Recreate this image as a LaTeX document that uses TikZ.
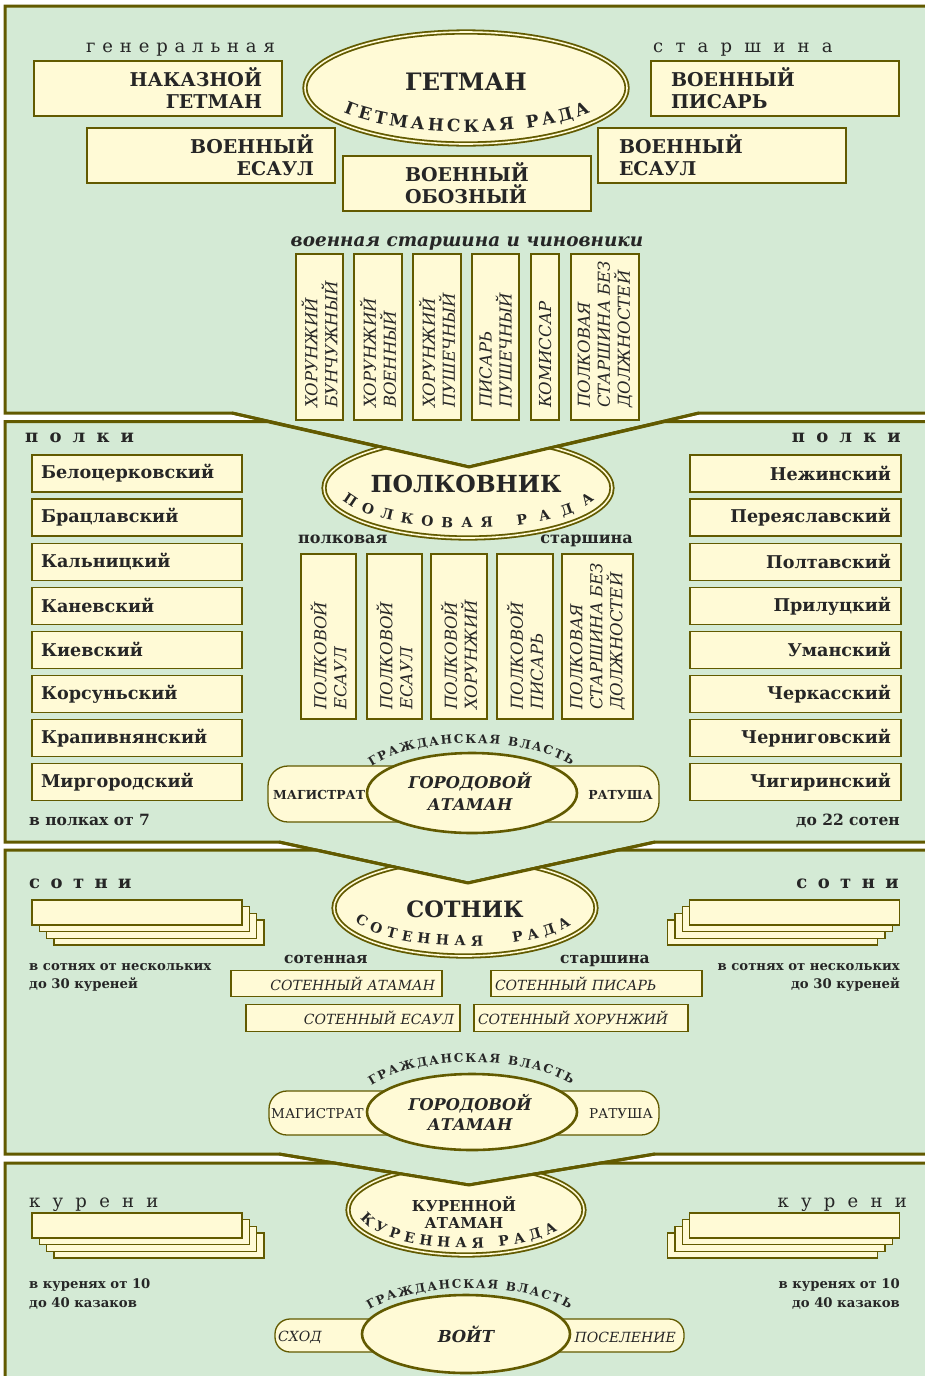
\documentclass[tikz,border=0pt]{standalone}
\usepackage{fontspec}
\setmainfont{DejaVu Serif}
\usetikzlibrary{shapes.geometric,decorations.text}
\definecolor{pgreen}{RGB}{212,234,213}
\definecolor{cream}{RGB}{255,250,214}
\definecolor{olive}{RGB}{98,90,0}
\definecolor{ink}{RGB}{38,38,38}
\newcommand{\fsz}[2]{\fontsize{#1pt}{#2pt}\selectfont}
\newcommand{\arcGet}{\bfseries\fsz{17}{17}}
\newcommand{\arcRada}{\bfseries\fsz{14}{14}}
\newcommand{\arcVl}{\bfseries\fsz{12}{12}}
\newcommand{\lsp}[1]{\addfontfeatures{LetterSpace=#1}}
\tikzset{
  panel/.style={fill=pgreen, draw=olive, line width=3pt},
  vedge/.style={draw=olive, line width=3pt},
  box/.style={draw=olive, fill=cream, line width=1.3pt, inner sep=0pt, text=ink},
  lab/.style={inner sep=0pt, text=ink},
  dell/.style={draw=olive, double=cream, double distance=1.6pt, line width=1.8pt, fill=cream},
  sell/.style={ellipse, draw=olive, line width=2.6pt, fill=cream, inner sep=0pt},
  bar/.style={draw=olive, fill=cream, line width=1.3pt, inner sep=0pt},
  bigt/.style={lab, font=\bfseries\fsz{23.5}{23.5}},
  bt/.style={font=\bfseries\fsz{19}{22}},
  vt/.style={lab, rotate=90, anchor=west, align=left, font=\itshape\fsz{16.5}{20}},
  sbox/.style={box, minimum width=210pt, minimum height=25pt},
  regL/.style={box, minimum width=210pt, minimum height=37pt, text width=192pt, align=left, font=\bfseries\fsz{17.6}{22}},
  regR/.style={box, minimum width=211pt, minimum height=37pt, text width=191pt, align=right, font=\bfseries\fsz{17.6}{22}},
  ibox/.style={box, minimum height=26.5pt, font=\itshape\fsz{14}{16}},
  note/.style={lab, font=\bfseries\fsz{13.2}{16}},
  rada/.style={decorate, decoration={text along path, text color=ink, text align=fit to path, text={#1}}},
}
\begin{document}
\begin{tikzpicture}[x=1pt,y=1pt]
\useasboundingbox (0,0) rectangle (924,-1376);
\fill[white] (0,0) rectangle (924,-1376);
% ---------- panels
\path[panel] (5,-6) -- (940,-6) -- (940,-413) -- (699,-413) -- (469,-467) -- (232,-413) -- (5,-413) -- cycle;
\path[panel] (5,-421.5) -- (267,-421.5) -- (469,-467) -- (665,-421.5) -- (940,-421.5) -- (940,-842) -- (655,-842) -- (468,-883) -- (279,-842) -- (5,-842) -- cycle;
\path[panel] (5,-850) -- (316,-850) -- (468,-883) -- (618,-850) -- (940,-850) -- (940,-1154) -- (655,-1154) -- (469,-1185) -- (279,-1154) -- (5,-1154) -- cycle;
\path[panel] (5,-1163) -- (334,-1163) -- (469,-1185) -- (601,-1163) -- (940,-1163) -- (940,-1395) -- (5,-1395) -- cycle;
% ---------- clipped ellipses
\begin{scope}
 \clip (5,-421.5) -- (267,-421.5) -- (469,-467) -- (665,-421.5) -- (940,-421.5) -- (940,-842) -- (5,-842) -- cycle;
 \path[dell] (468,-488) ellipse[x radius=144, y radius=50];
\end{scope}
\draw[vedge] (232,-413) -- (469,-467) -- (699,-413);
\begin{scope}
 \clip (5,-850) -- (316,-850) -- (468,-883) -- (618,-850) -- (940,-850) -- (940,-1154) -- (5,-1154) -- cycle;
 \path[dell] (465,-908) ellipse[x radius=131, y radius=48];
\end{scope}
\draw[vedge] (279,-842) -- (468,-883) -- (655,-842);
\begin{scope}
 \clip (5,-1163) -- (334,-1163) -- (469,-1185) -- (601,-1163) -- (940,-1163) -- (940,-1395) -- (5,-1395) -- cycle;
 \path[dell] (466,-1210) ellipse[x radius=118, y radius=45];
\end{scope}
\draw[vedge] (279,-1154) -- (469,-1185) -- (655,-1154);

% ================= PANEL 1
\node[lab, anchor=base west, font=\fsz{18}{18}\lsp{38}] (gen) at (86,-52) {генеральная};
\node[lab, anchor=base west, font=\fsz{18}{18}\lsp{68}] (star1) at (653,-52) {старшина};
\node[box, bt, minimum width=248pt, minimum height=55pt, text width=208pt, align=right] (nakg) at (158,-88.5) {НАКАЗНОЙ\\ГЕТМАН};
\node[box, bt, minimum width=248pt, minimum height=55pt, text width=206pt, align=right] (ves1) at (211,-155.5) {ВОЕННЫЙ\\ЕСАУЛ};
\node[box, bt, minimum width=248pt, minimum height=55pt, align=left] (vob) at (467,-183.5) {ВОЕННЫЙ\\ОБОЗНЫЙ};
\node[box, bt, minimum width=248pt, minimum height=55pt, text width=208pt, align=left] (vpis) at (775,-88.5) {ВОЕННЫЙ\\ПИСАРЬ};
\node[box, bt, minimum width=248pt, minimum height=55pt, text width=206pt, align=left] (ves2) at (722,-155.5) {ВОЕННЫЙ\\ЕСАУЛ};
\node[ellipse, dell, minimum width=322pt, minimum height=112pt, inner sep=0pt] (getman) at (466,-88) {};
\node[bigt, font=\bfseries\fsz{24}{24}] (getmant) at (466,-82) {ГЕТМАН};
\path[rada={|\arcGet|ГЕТМАНСКАЯ РАДА}] ([shift={(214:148 and 44)}]466,-88) arc[start angle=214, end angle=327, x radius=148, y radius=44];
\node[lab, anchor=base, font=\bfseries\itshape\fsz{18.4}{19}] (vsch) at (467,-246) {военная старшина и чиновники};
% vertical boxes
\node[box, minimum width=47pt, minimum height=166pt] (h1) at (319.5,-337) {};
\node[vt] (h1t) at (319.5,-408) {ХОРУНЖИЙ\\БУНЧУЖНЫЙ};
\node[box, minimum width=48pt, minimum height=166pt] (h2) at (378,-337) {};
\node[vt] (h2t) at (378,-408) {ХОРУНЖИЙ\\ВОЕННЫЙ};
\node[box, minimum width=48pt, minimum height=166pt] (h3) at (437,-337) {};
\node[vt] (h3t) at (437,-408) {ХОРУНЖИЙ\\ПУШЕЧНЫЙ};
\node[box, minimum width=47pt, minimum height=166pt] (h4) at (495.5,-337) {};
\node[vt] (h4t) at (495.5,-408) {ПИСАРЬ\\ПУШЕЧНЫЙ};
\node[box, minimum width=28pt, minimum height=166pt] (h5) at (545,-337) {};
\node[vt] (h5t) at (545,-408) {КОМИССАР};
\node[box, minimum width=68pt, minimum height=166pt] (h6) at (605,-337) {};
\node[vt] (h6t) at (605,-408) {ПОЛКОВАЯ\\СТАРШИНА БЕЗ\\ДОЛЖНОСТЕЙ};

% ================= PANEL 2
\node[lab, anchor=base west, font=\bfseries\fsz{18}{18}\lsp{62}] (polkiL) at (25,-442) {полки};
\node[lab, anchor=base east, font=\bfseries\fsz{18}{18}\lsp{62}] (polkiR) at (901,-442) {полки};
\foreach \n [count=\i from 0] in {Белоцерковский,Брацлавский,Кальницкий,Каневский,Киевский,Корсуньский,Крапивнянский,Миргородский}
  \node[regL] (L\i) at (137,{-473.5-44.1*\i}) {\n};
\foreach \n [count=\i from 0] in {Нежинский,Переяславский,Полтавский,Прилуцкий,Уманский,Черкасский,Черниговский,Чигиринский}
  \node[regR] (R\i) at (795.5,{-473.5-44.1*\i}) {\n};
\node[bigt] (polkt) at (466,-484) {ПОЛКОВНИК};
\path[rada={|\arcRada|ПОЛКОВАЯ}] ([shift={(198:132 and 40)}]468,-488) arc[start angle=198, end angle=281, x radius=132, y radius=40];
\path[rada={|\arcRada|РАДА}] ([shift={(292:132 and 40)}]468,-488) arc[start angle=292, end angle=343, x radius=132, y radius=40];
\node[lab, anchor=base west, font=\bfseries\fsz{16}{16}] (pst1) at (298,-543) {полковая};
\node[lab, anchor=base east, font=\bfseries\fsz{16}{16}] (pst2) at (633,-543) {старшина};
\node[box, minimum width=55pt, minimum height=165pt] (p1) at (328.5,-636.5) {};
\node[vt] (p1t) at (328.5,-710) {ПОЛКОВОЙ\\ЕСАУЛ};
\node[box, minimum width=55pt, minimum height=165pt] (p2) at (394.5,-636.5) {};
\node[vt] (p2t) at (394.5,-710) {ПОЛКОВОЙ\\ЕСАУЛ};
\node[box, minimum width=56pt, minimum height=165pt] (p3) at (459,-636.5) {};
\node[vt] (p3t) at (459,-710) {ПОЛКОВОЙ\\ХОРУНЖИЙ};
\node[box, minimum width=56pt, minimum height=165pt] (p4) at (525,-636.5) {};
\node[vt] (p4t) at (525,-710) {ПОЛКОВОЙ\\ПИСАРЬ};
\node[box, minimum width=71pt, minimum height=165pt] (p5) at (597.5,-636.5) {};
\node[vt] (p5t) at (597.5,-710) {ПОЛКОВАЯ\\СТАРШИНА БЕЗ\\ДОЛЖНОСТЕЙ};
\path[rada={|\arcVl|ГРАЖДАНСКАЯ ВЛАСТЬ}] ([shift={(147:120 and 51)}]472,-794) arc[start angle=147, end angle=34, x radius=120, y radius=51];
\node[bar, rounded corners=20pt, minimum width=391pt, minimum height=56pt] (mag2) at (463.5,-794) {};
\node[sell, minimum width=210pt, minimum height=80pt] (gor2) at (472,-793) {};
\node[lab, align=center, font=\bfseries\itshape\fsz{16.2}{22}] (gor2t) at (470,-791) {ГОРОДОВОЙ\\АТАМАН};
\node[lab, anchor=west, font=\bfseries\fsz{12.4}{13}] (mag2l) at (273,-795) {МАГИСТРАТ};
\node[lab, anchor=east, font=\bfseries\fsz{12.4}{13}] (mag2r) at (653,-795) {РАТУША};
\node[note, anchor=base west, font=\bfseries\fsz{15.5}{16}] (n7) at (29,-825) {в полках от 7};
\node[note, anchor=base east, font=\bfseries\fsz{15.5}{16}] (n22) at (900,-825) {до 22 сотен};

% ================= PANEL 3
\node[lab, anchor=base west, font=\bfseries\fsz{18}{18}\lsp{58}] (sotL) at (29,-888) {сотни};
\node[lab, anchor=base east, font=\bfseries\fsz{18}{18}\lsp{58}] (sotR) at (899,-888) {сотни};
\foreach \o in {3,2,1,0} {
  \node[sbox] (sl\o) at ({137+7.3*\o},{-912.5-6.7*\o}) {};
  \node[sbox] (sr\o) at ({794.5-7.3*\o},{-912.5-6.7*\o}) {};
}
\node[note, anchor=base west] (s1a) at (29,-970) {в сотнях от нескольких};
\node[note, anchor=base west] (s1b) at (29,-988) {до 30 куреней};
\node[note, anchor=base east] (s2a) at (900,-970) {в сотнях от нескольких};
\node[note, anchor=base east] (s2b) at (900,-988) {до 30 куреней};
\node[bigt, font=\bfseries\fsz{22.5}{22.5}] (sott) at (465,-909) {СОТНИК};
\path[rada={|\arcRada|СОТЕННАЯ}] ([shift={(201:118 and 38)}]465,-908) arc[start angle=201, end angle=279, x radius=118, y radius=38];
\path[rada={|\arcRada|РАДА}] ([shift={(294:118 and 38)}]465,-908) arc[start angle=294, end angle=334, x radius=118, y radius=38];
\node[lab, anchor=base west, font=\bfseries\fsz{15.5}{16}] (sst1) at (284,-963) {сотенная};
\node[lab, anchor=base west, font=\bfseries\fsz{15.5}{16}] (sst2) at (560,-963) {старшина};
\node[ibox, minimum width=211pt, text width=197pt, align=right] (sa) at (336.5,-983.5) {СОТЕННЫЙ АТАМАН};
\node[ibox, minimum width=214pt, text width=202pt, align=right] (se) at (353,-1018) {СОТЕННЫЙ ЕСАУЛ};
\node[ibox, minimum width=211pt, text width=203pt, align=left] (sp) at (596.5,-983.5) {СОТЕННЫЙ ПИСАРЬ};
\node[ibox, minimum width=214pt, text width=206pt, align=left] (sh) at (581,-1018) {СОТЕННЫЙ ХОРУНЖИЙ};
\path[rada={|\arcVl|ГРАЖДАНСКАЯ ВЛАСТЬ}] ([shift={(147:120 and 51)}]472,-1113) arc[start angle=147, end angle=34, x radius=120, y radius=51];
\node[bar, rounded corners=18pt, minimum width=390pt, minimum height=44pt] (mag3) at (464,-1113) {};
\node[sell, minimum width=210pt, minimum height=76pt] (gor3) at (472,-1112) {};
\node[lab, align=center, font=\bfseries\itshape\fsz{16.2}{20}] (gor3t) at (470,-1112) {ГОРОДОВОЙ\\АТАМАН};
\node[lab, anchor=west, font=\fsz{13.5}{13.5}] (mag3l) at (271,-1114) {МАГИСТРАТ};
\node[lab, anchor=east, font=\fsz{13.5}{13.5}] (mag3r) at (653,-1114) {РАТУША};

% ================= PANEL 4
\node[lab, anchor=base west, font=\fsz{18}{18}\lsp{68}] (kurL) at (29,-1207) {курени};
\node[lab, anchor=base east, font=\fsz{18}{18}\lsp{68}] (kurR) at (907,-1207) {курени};
\foreach \o in {3,2,1,0} {
  \node[sbox] (kl\o) at ({137+7.3*\o},{-1225.5-6.7*\o}) {};
  \node[sbox] (kr\o) at ({794.5-7.3*\o},{-1225.5-6.7*\o}) {};
}
\node[note, anchor=base west] (k1a) at (29,-1288) {в куренях от 10};
\node[note, anchor=base west] (k1b) at (29,-1307) {до 40 казаков};
\node[note, anchor=base east] (k2a) at (900,-1288) {в куренях от 10};
\node[note, anchor=base east] (k2b) at (900,-1307) {до 40 казаков};
\node[lab, align=center, font=\bfseries\fsz{15}{17}] (kurt) at (464,-1212) {КУРЕННОЙ\\АТАМАН};
\path[rada={|\arcRada|КУРЕННАЯ РАДА}] ([shift={(192:108 and 38)}]466,-1210) arc[start angle=192, end angle=328, x radius=108, y radius=38];
\path[rada={|\arcVl|ГРАЖДАНСКАЯ ВЛАСТЬ}] ([shift={(147:120 and 48)}]470,-1336) arc[start angle=147, end angle=34, x radius=120, y radius=48];
\node[bar, rounded corners=15pt, minimum width=409pt, minimum height=33pt] (sxod) at (479.5,-1335.5) {};
\node[sell, minimum width=208pt, minimum height=78pt] (voit) at (466,-1334) {};
\node[lab, font=\bfseries\itshape\fsz{16.5}{20}] (voitt) at (466,-1334) {ВОЙТ};
\node[lab, anchor=west, font=\itshape\fsz{14}{14}] (sxl) at (278,-1337) {СХОД};
\node[lab, anchor=east, font=\itshape\fsz{14}{14}] (sxr) at (676,-1337) {ПОСЕЛЕНИЕ};
\end{tikzpicture}
\end{document}
